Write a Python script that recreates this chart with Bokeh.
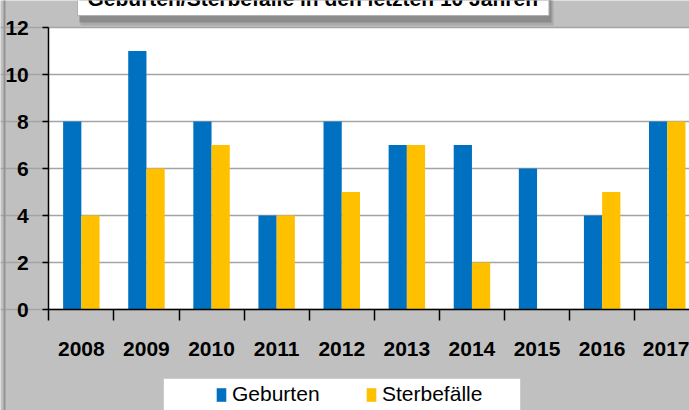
from bokeh.plotting import figure
from bokeh.models import (Range1d, FixedTicker, Legend, LegendItem, Label,
                          ColumnDataSource, BoxAnnotation)
from bokeh.transform import dodge
from bokeh.embed import file_html
from bokeh.resources import INLINE

# ---- data ----
years = [2008, 2009, 2010, 2011, 2012, 2013, 2014, 2015, 2016, 2017]
geburten = [8, 11, 8, 4, 8, 7, 7, 6, 4, 8]
sterbefaelle = [4, 6, 7, 4, 5, 7, 2, 0, 5, 8]
series_names = ["Geburten", "Sterbefälle"]
y_ticks = [0, 2, 4, 6, 8, 10, 12]
title_text = "Geburten/Sterbefälle in den letzten 10 Jahren"

# ---- layout (canvas pixels) ----
W, H = 689, 410
PX_LEFT, PX_TOP, PX_BOTTOM = 48.3, 27.0, 309.0      # plot-area edges
PX_PER_CAT = 65.1
FONT = "Liberation Sans"
BLUE, GOLD = "#0070C0", "#FFC000"
BG = "#c0c0c0"

x0 = years[0] - 0.5
x_lo = x0 - PX_LEFT / PX_PER_CAT
x_hi = x0 + (W - PX_LEFT) / PX_PER_CAT
ppu = (PX_BOTTOM - PX_TOP) / (y_ticks[-1] - y_ticks[0])
y_hi = y_ticks[-1] + PX_TOP / ppu
y_lo = y_ticks[0] - (H - PX_BOTTOM) / ppu


def dx(px):
    return x_lo + px / PX_PER_CAT


def dy(py):
    return y_hi - py / ppu


src = ColumnDataSource(dict(year=years, geb=geburten, ster=sterbefaelle))

p = figure(width=W, height=H, output_backend="svg", toolbar_location=None,
           x_range=Range1d(x_lo, x_hi), y_range=Range1d(y_lo, y_hi),
           min_border_left=0, min_border_right=0, min_border_top=0,
           min_border_bottom=0)
p.background_fill_color = BG
p.border_fill_color = BG
p.outline_line_color = None

# white plot area
p.add_layout(BoxAnnotation(left=x0, bottom=y_ticks[0], top=y_ticks[-1],
                           fill_color="white", fill_alpha=1, line_color=None,
                           level="image"))

r1 = p.vbar(x=dodge("year", -0.14, range=p.x_range), top="geb", width=0.28,
            source=src, fill_color=BLUE, line_color=None)
r2 = p.vbar(x=dodge("year", 0.14, range=p.x_range), top="ster", width=0.28,
            source=src, fill_color=GOLD, line_color=None)

# grid
p.xgrid.visible = False
p.ygrid.ticker = FixedTicker(ticks=y_ticks)
p.ygrid.bounds = (x0, years[-1] + 0.5)
p.ygrid.grid_line_color = "#a4a4a4"
p.ygrid.grid_line_width = 1.5

# y axis
ya = p.yaxis[0]
ya.fixed_location = x0
ya.bounds = (y_ticks[0], y_ticks[-1])
ya.ticker = FixedTicker(ticks=y_ticks)
ya.axis_line_color = "black"
ya.axis_line_width = 1.5
ya.major_tick_line_color = "black"
ya.major_tick_line_width = 1.5
ya.major_tick_out = 6
ya.major_tick_in = 0
ya.minor_tick_line_color = None
ya.major_label_standoff = 14
ya.major_label_text_font = FONT
ya.major_label_text_font_style = "bold"
ya.major_label_text_font_size = "21px"
ya.major_label_text_color = "black"

# x axis
xa = p.xaxis[0]
xa.fixed_location = y_ticks[0]
xa.bounds = (x0, years[-1] + 0.5)
boundaries = [y - 0.5 for y in years] + [years[-1] + 0.5]
xa.ticker = FixedTicker(ticks=years, minor_ticks=boundaries)
xa.axis_line_color = "black"
xa.axis_line_width = 1.5
xa.major_tick_line_color = None
xa.major_tick_out = 0
xa.major_tick_in = 0
xa.minor_tick_line_color = "black"
xa.minor_tick_line_width = 1.5
xa.minor_tick_out = 11
xa.minor_tick_in = 0
xa.major_label_standoff = 21
xa.major_label_text_font = FONT
xa.major_label_text_font_style = "bold"
xa.major_label_text_font_size = "21px"
xa.major_label_text_color = "black"
xa.major_label_overrides = {y: str(y) for y in years}


def box(left, top, right, bottom, fill, line=None):
    """A rectangle given in canvas pixels, converted to data units."""
    return BoxAnnotation(left=dx(left), right=dx(right), top=dy(top), bottom=dy(bottom),
                         fill_color=fill, fill_alpha=1,
                         line_color=line, line_width=1)


# left border line of the chart object
p.add_layout(box(3, -5, 5, H + 5, "#939393"))
# title shadow + title (cut at the top, as in the source)
p.add_layout(box(80, -20, 553, 25, "#a9a9a9"))
p.add_layout(box(79, -20, 551, 22, "#8c8c8c"))
p.add_layout(Label(x=77, y=-18, x_units="canvas", y_units="canvas", text=title_text,
                   text_font=FONT, text_font_style="bold",
                   text_font_size="21px", text_baseline="top", text_align="left",
                   text_color="black", background_fill_color="white",
                   border_line_color="#b0b0b0", border_line_width=1,
                   padding=dict(left=10, right=11, top=4, bottom=6)))
# legend box
p.add_layout(box(163, 378, 520, H + 5, "white", "#a0a0a0"))

legend = Legend(items=[LegendItem(label=series_names[0], renderers=[r1]),
                       LegendItem(label=series_names[1], renderers=[r2])],
                orientation="horizontal", location=(215, 4),
                glyph_width=12, glyph_height=17, label_standoff=5, spacing=0,
                label_width=133, padding=0, margin=0,
                background_fill_alpha=0, border_line_color=None,
                label_text_font=FONT, label_text_font_size="21px",
                label_text_color="black")
p.add_layout(legend, "center")

open("out.html", "w").write(file_html(p, INLINE))
